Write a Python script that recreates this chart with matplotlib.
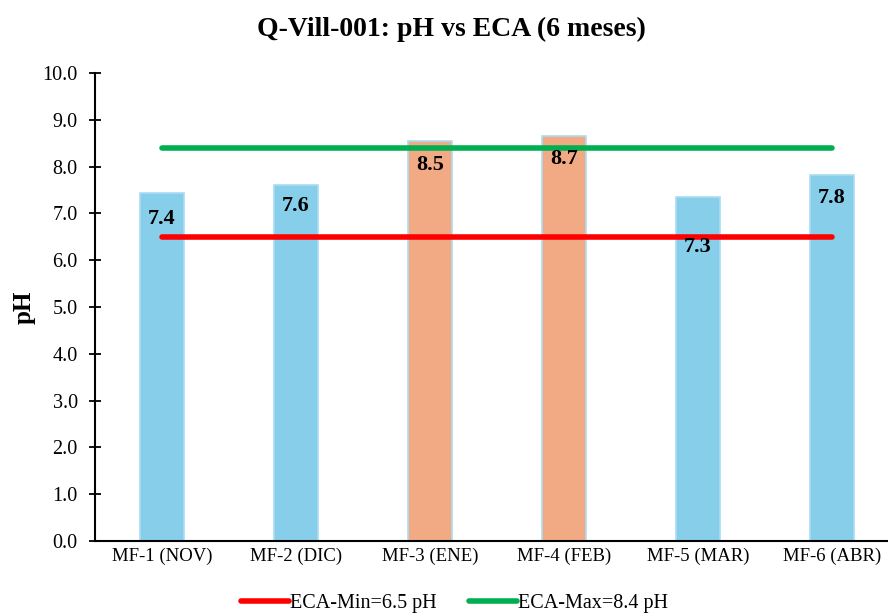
import numpy as np
import matplotlib
matplotlib.use('Agg')
import matplotlib.pyplot as plt
from matplotlib.lines import Line2D

categories = ["MF-1 (NOV)", "MF-2 (DIC)", "MF-3 (ENE)", "MF-4 (FEB)", "MF-5 (MAR)", "MF-6 (ABR)"]
ph_values = [7.44, 7.61, 8.54, 8.66, 7.34, 7.82]
eca_min = 6.5
eca_max = 8.4

plt.rcParams['font.family'] = ['Liberation Serif', 'DejaVu Serif']

fig = plt.figure(figsize=(8.88, 6.15), dpi=100)
ax = fig.add_axes([95/888, 74/615, 804/888, 468/615])

x = np.arange(len(categories))
# barras fuera del rango ECA en naranja
colors = ['#F2AA84' if (v > eca_max or v < eca_min) else '#87CEEB' for v in ph_values]
ax.bar(x, ph_values, width=0.33, color=colors, edgecolor='#A9DDF3', linewidth=1.2, zorder=2)

ax.plot([x[0], x[-1]], [eca_min, eca_min], color='#FF0000', lw=4, solid_capstyle='round', zorder=3)
ax.plot([x[0], x[-1]], [eca_max, eca_max], color='#00B050', lw=4, solid_capstyle='round', zorder=3)

# etiquetas de valores dentro de las barras
label_dy = [0.55, 0.45, 0.5, 0.5, 1.05, 0.5]
for xi, v, dy in zip(x, ph_values, label_dy):
    ax.text(xi, v - dy, f"{v:.1f}", ha='center', va='center', fontsize=16,
            fontweight='bold', zorder=4)

ax.set_xlim(-0.5, len(categories) - 0.5)
ax.set_ylim(0, 10)
ax.set_yticks(np.arange(0, 10.01, 1.0))
ax.set_yticklabels([f"{t:.1f}" for t in np.arange(0, 10.01, 1.0)], fontsize=14.5)
ax.set_xticks(x)
ax.set_xticklabels(categories, fontsize=13.5)
ax.tick_params(axis='y', direction='inout', length=9, width=1.3, pad=8)
ax.tick_params(axis='x', length=0, pad=5)
for s in ['top', 'right']:
    ax.spines[s].set_visible(False)
ax.spines['left'].set_linewidth(1.5)
ax.spines['bottom'].set_linewidth(1.5)

ax.set_ylabel("pH", fontsize=18, fontweight='bold', labelpad=5)
fig.text(0.508, 0.952, "Q-Vill-001: pH vs ECA (6 meses)", ha='center', va='center',
         fontsize=20, fontweight='bold')

handles = [Line2D([], [], color='#FF0000', lw=4, solid_capstyle='round'),
           Line2D([], [], color='#00B050', lw=4, solid_capstyle='round')]
fig.legend(handles, [f"ECA-Min={eca_min} pH", f"ECA-Max={eca_max} pH"], loc='center',
           bbox_to_anchor=(0.512, 0.018), ncol=2, frameon=False, fontsize=14.5,
           handlelength=2.4, handletextpad=0.05, columnspacing=1.6)

fig.savefig("out.png", dpi=100)
